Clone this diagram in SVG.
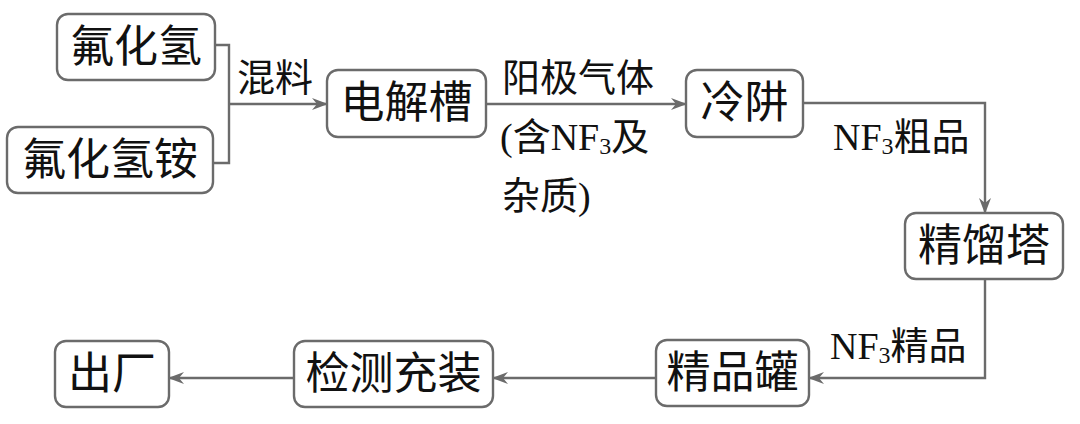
<svg xmlns="http://www.w3.org/2000/svg" width="1080" height="424" viewBox="0 0 1080 424">
<defs>
<style>
.box{fill:#fff;stroke:#6b6b6b;stroke-width:2.4}
.bt{font-family:'Liberation Serif','Noto Sans CJK SC',serif;font-size:44px;fill:#111;text-anchor:middle;dominant-baseline:central}
.lb{font-family:'Liberation Serif','Noto Sans CJK SC',serif;font-size:38px;fill:#111;dominant-baseline:central}
.c{fill:none;stroke:#6b6b6b;stroke-width:2.4}
</style>
<marker id="ah" viewBox="0 0 16 12" refX="15" refY="6" markerWidth="16" markerHeight="12" markerUnits="userSpaceOnUse" orient="auto">
<path d="M0,0 L16,6 L0,12 L5,6 z" fill="#6b6b6b"/>
</marker>
</defs>
<g id="connectors">
<path class="c" d="M215,45 H229 V163 H213"/>
<path class="c" d="M229,104 H327" marker-end="url(#ah)"/>
<path class="c" d="M486,104 H686" marker-end="url(#ah)"/>
<path class="c" d="M803,103 H985 V213" marker-end="url(#ah)"/>
<path class="c" d="M985,279 V378 H809" marker-end="url(#ah)"/>
<path class="c" d="M656,378 H493" marker-end="url(#ah)"/>
<path class="c" d="M294,378 H169" marker-end="url(#ah)"/>
</g>
<g id="labels">
<text class="lb" x="237" y="78">混料</text>
<text class="lb" x="502" y="78">阳极气体</text>
<text class="lb" x="500" y="137">(含NF<tspan font-size="24" dy="9">3</tspan><tspan dy="-9">及</tspan></text>
<text class="lb" x="502" y="196">杂质)</text>
<text class="lb" x="833" y="137">NF<tspan font-size="24" dy="9">3</tspan><tspan dy="-9">粗品</tspan></text>
<text class="lb" x="830" y="346">NF<tspan font-size="24" dy="9">3</tspan><tspan dy="-9">精品</tspan></text>
</g>
<g id="n1"><rect class="box" x="57" y="14" width="158" height="66" rx="11"/><text class="bt" x="136" y="47">氟化氢</text></g>
<g id="n2"><rect class="box" x="7" y="127" width="206" height="66" rx="11"/><text class="bt" x="110" y="160">氟化氢铵</text></g>
<g id="n3"><rect class="box" x="327" y="70" width="159" height="67" rx="11"/><text class="bt" x="406.5" y="103.5">电解槽</text></g>
<g id="n4"><rect class="box" x="686" y="70" width="117" height="67" rx="11"/><text class="bt" x="744.5" y="103.5">冷阱</text></g>
<g id="n5"><rect class="box" x="905" y="213" width="158" height="66" rx="11"/><text class="bt" x="984" y="246">精馏塔</text></g>
<g id="n6"><rect class="box" x="656" y="340" width="153" height="66" rx="11"/><text class="bt" x="732.5" y="373">精品罐</text></g>
<g id="n7"><rect class="box" x="294" y="341" width="199" height="66" rx="11"/><text class="bt" x="393.5" y="374">检测充装</text></g>
<g id="n8"><rect class="box" x="55" y="341" width="114" height="66" rx="11"/><text class="bt" x="112" y="374">出厂</text></g>
</svg>
